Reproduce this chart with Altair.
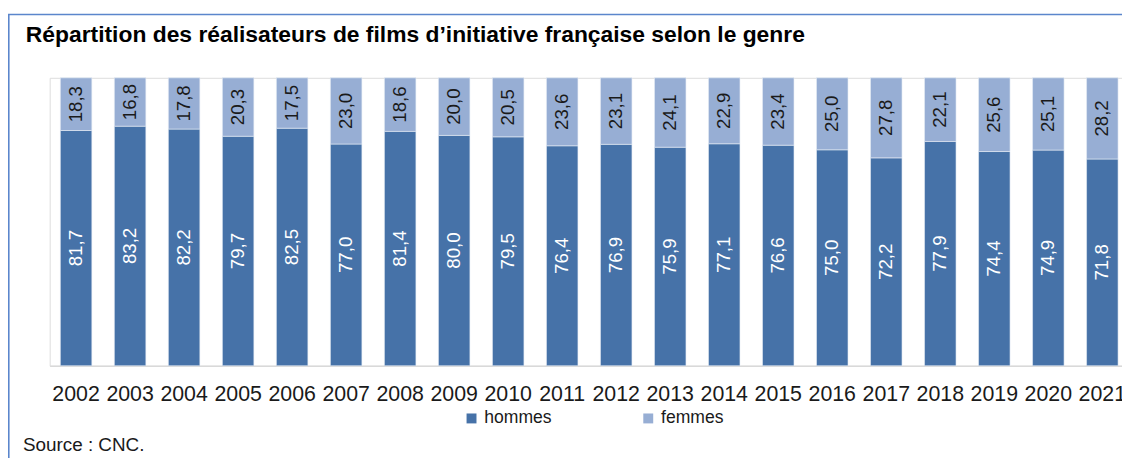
import altair as alt
import pandas as pd

years = [str(y) for y in range(2002, 2022)]
hommes = [81.7, 83.2, 82.2, 79.7, 82.5, 77.0, 81.4, 80.0, 79.5, 76.4,
          76.9, 75.9, 77.1, 76.6, 75.0, 72.2, 77.9, 74.4, 74.9, 71.8]
femmes = [18.3, 16.8, 17.8, 20.3, 17.5, 23.0, 18.6, 20.0, 20.5, 23.6,
          23.1, 24.1, 22.9, 23.4, 25.0, 27.8, 22.1, 25.6, 25.1, 28.2]
series = ["hommes", "femmes"]
colors = ["#4672A8", "#97AED4"]
label_colors = ["#FFFFFF", "#1A1A1A"]

title_text = "Répartition des réalisateurs de films d’initiative française selon le genre"
source_text = "Source : CNC."

rows = []
for i, y in enumerate(years):
    rows.append({"year": y, "serie": "hommes", "value": hommes[i], "ord": 0})
    rows.append({"year": y, "serie": "femmes", "value": femmes[i], "ord": 1})
df = pd.DataFrame(rows)

FONT = "Liberation Sans"

xscale = alt.Scale(domain=years, paddingInner=0.417, paddingOuter=0.135, align=0.73)
yscale = alt.Scale(domain=[0, 100], nice=False)

base = alt.Chart(df).transform_stack(
    stack="value", groupby=["year"], as_=["y0", "y1"],
    sort=[alt.SortField("ord", order="ascending")]
).transform_calculate(
    mid="(datum.y0 + datum.y1) / 2",
    lab="replace(format(datum.value, '.1f'), '.', ',')"
)

bars = base.mark_bar(stroke="#E6ECF5", strokeWidth=0.6).encode(
    x=alt.X("year:N", scale=xscale, sort=years,
            axis=alt.Axis(title=None, labelAngle=0, ticks=False,
                          domainColor="#D9D9D9", domainWidth=1.5,
                          labelFont=FONT, labelFontSize=21.5, labelColor="#1A1A1A",
                          labelBaseline="alphabetic", labelPadding=35,
                          labelOverlap=False, labelFlush=False)),
    y=alt.Y("y0:Q", scale=yscale, axis=None),
    y2="y1:Q",
    color=alt.Color("serie:N", scale=alt.Scale(domain=series, range=colors),
                    legend=alt.Legend(orient="none", legendX=416, legendY=334,
                                      direction="horizontal", title=None,
                                      symbolType="square", symbolSize=100,
                                      symbolStrokeWidth=0, labelFont=FONT,
                                      labelFontSize=17.7, labelColor="#1A1A1A",
                                      labelOffset=4, columnPadding=88, padding=0)),
)

labels = base.mark_text(angle=270, font=FONT, fontSize=18.8, baseline="middle",
                        align="center").encode(
    x=alt.X("year:N", scale=xscale, sort=years),
    y=alt.Y("mid:Q", scale=yscale),
    text="lab:N",
    color=alt.Color("serie:N", scale=alt.Scale(domain=series, range=label_colors),
                    legend=None),
)

one = alt.Data(values=[{}])
title = alt.Chart(one).mark_text(text=title_text, font=FONT, fontSize=23,
                                 fontWeight="bold", align="left",
                                 baseline="alphabetic", color="#000000").encode(
    x=alt.value(-24), y=alt.value(-35.7))
source = alt.Chart(one).mark_text(text=source_text, font=FONT, fontSize=19,
                                  align="left", baseline="alphabetic",
                                  color="#1A1A1A").encode(
    x=alt.value(-27), y=alt.value(376))
frame_top = alt.Chart(one).mark_rule(color="#5B86CC", strokeWidth=1.6).encode(
    x=alt.value(-42), x2=alt.value(1090), y=alt.value(-63.7))
frame_left = alt.Chart(one).mark_rule(color="#5B86CC", strokeWidth=1.6).encode(
    x=alt.value(-41.2), y=alt.value(-63.7), y2=alt.value(400))

chart = alt.layer(bars, labels, title, source, frame_top, frame_left).resolve_scale(
    color="independent"
).properties(
    width=1080, height=290,
    autosize=alt.AutoSizeParams(type="none"),
    padding={"left": 42, "top": 68.7, "right": 0, "bottom": 91.3},
).configure_view(stroke=None).configure(background="white")

chart.save("out.html", embed_options={"renderer": "svg", "actions": False})
